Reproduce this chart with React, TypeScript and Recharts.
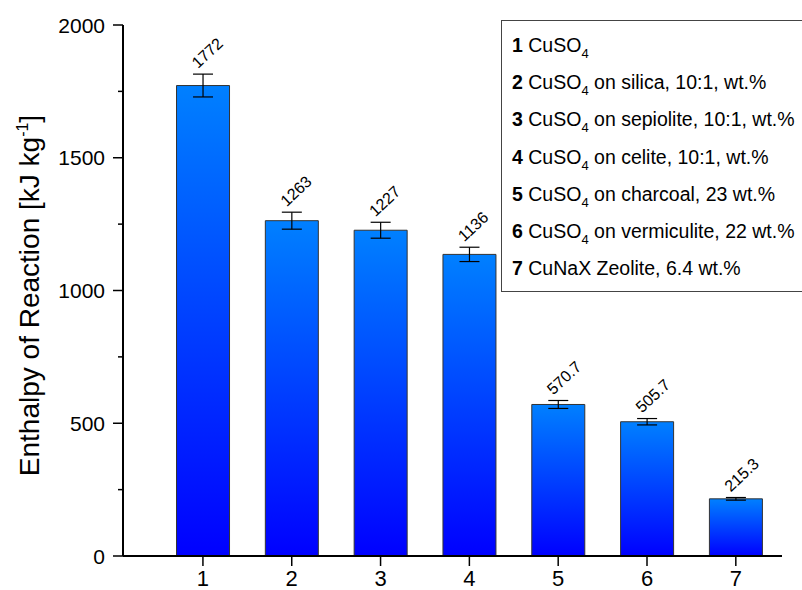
import { Bar, ComposedChart, ErrorBar, LabelList, Line, XAxis, YAxis } from "recharts";

const samples = [1, 2, 3, 4, 5, 6, 7];
const enthalpy = [1772, 1263, 1227, 1136, 570.7, 505.7, 215.3];
const enthalpyError = [43, 32, 30, 27, 15, 12, 5];
const sampleNames = [
  { base: "CuSO", sub: "4", rest: "" },
  { base: "CuSO", sub: "4", rest: " on silica, 10:1, wt.%" },
  { base: "CuSO", sub: "4", rest: " on sepiolite, 10:1, wt.%" },
  { base: "CuSO", sub: "4", rest: " on celite, 10:1, wt.%" },
  { base: "CuSO", sub: "4", rest: " on charcoal, 23 wt.%" },
  { base: "CuSO", sub: "4", rest: " on vermiculite, 22 wt.%" },
  { base: "CuNaX Zeolite, 6.4 wt.%", sub: "", rest: "" },
];
const yMajorTicks = [0, 500, 1000, 1500, 2000];
const yMinorTicks = [250, 750, 1250, 1750];

const FONT = "'Liberation Sans', Arial, Helvetica, sans-serif";

const data = samples.map((id, i) => ({
  id,
  value: enthalpy[i],
  err: enthalpyError[i],
  top: enthalpy[i] + enthalpyError[i],
}));

const Y_TICK_SIZE = 10;
const Y_TICK_MARGIN = 8;

function YTick(props: any) {
  const { x, y, payload } = props;
  const axisX = x + Y_TICK_SIZE + Y_TICK_MARGIN;
  const major = yMajorTicks.includes(payload.value);
  return (
    <g>
      <line
        x1={axisX - (major ? Y_TICK_SIZE : 5)}
        x2={axisX}
        y1={y}
        y2={y}
        stroke="#000"
        strokeWidth={1.5}
      />
      {major && (
        <text
          x={x}
          y={y}
          textAnchor="end"
          dominantBaseline="central"
          fontSize={21}
          fontFamily={FONT}
          fill="#000"
        >
          {payload.value}
        </text>
      )}
    </g>
  );
}

// rotated value text sitting just above the error bar cap
function ValueLabel(props: any) {
  const { x, y, index } = props;
  const tx = x - 5;
  const ty = y - 5;
  return (
    <text
      x={tx}
      y={ty}
      transform={`rotate(-43, ${tx}, ${ty})`}
      fontSize={16}
      fontFamily={FONT}
      fill="#000"
    >
      {String(enthalpy[index])}
    </text>
  );
}

function YTitle(props: any) {
  const { viewBox } = props;
  const cx = viewBox.x + 39;
  const cy = viewBox.y + viewBox.height / 2 + 5;
  return (
    <text
      x={cx}
      y={cy}
      transform={`rotate(-90, ${cx}, ${cy})`}
      textAnchor="middle"
      fontSize={28}
      fontFamily={FONT}
      fill="#000"
    >
      Enthalpy of Reaction [kJ kg
      <tspan dy={-11} fontSize={16}>
        -1
      </tspan>
      <tspan dy={11}>]</tspan>
    </text>
  );
}

function SampleLegend() {
  return (
    <div
      style={{
        position: "absolute",
        left: 501,
        top: 20,
        width: 310,
        height: 272,
        border: "1.5px solid #444",
        background: "#fff",
        fontFamily: FONT,
        fontSize: 19.5,
        color: "#000",
        boxSizing: "border-box",
        paddingLeft: 10,
        paddingTop: 11,
      }}
    >
      {sampleNames.map((name, i) => (
        <div key={i} style={{ height: 37.2, lineHeight: "26px", whiteSpace: "nowrap" }}>
          <b>{samples[i]}</b> {name.base}
          {name.sub && (
            <sub style={{ fontSize: 13, verticalAlign: "-6px" }}>{name.sub}</sub>
          )}
          {name.rest}
        </div>
      ))}
    </div>
  );
}

export default function App() {
  return (
    <div style={{ position: "absolute", left: 0, top: 0, width: 802, height: 590, overflow: "hidden", background: "#fff" }}>
      <ComposedChart
        width={802}
        height={590}
        data={data}
        margin={{ top: 25, right: 20, bottom: 0, left: 0 }}
      >
        <defs>
          <linearGradient id="barFill" x1="0" y1="0" x2="0" y2="1">
            <stop offset="0%" stopColor="#0080ff" />
            <stop offset="100%" stopColor="#0000ff" />
          </linearGradient>
        </defs>
        <XAxis
          dataKey="id"
          type="number"
          domain={[0.1, 7.52]}
          ticks={samples}
          allowDataOverflow
          height={34}
          tickSize={10}
          tickMargin={4}
          axisLine={{ stroke: "#000", strokeWidth: 2 }}
          tickLine={{ stroke: "#000", strokeWidth: 1.5 }}
          tick={{ fill: "#000", fontSize: 22, fontFamily: FONT }}
        />
        <YAxis
          type="number"
          domain={[0, 2000]}
          ticks={[...yMajorTicks, ...yMinorTicks].sort((a, b) => a - b)}
          width={123}
          tickSize={Y_TICK_SIZE}
          tickMargin={Y_TICK_MARGIN}
          tickLine={false}
          axisLine={{ stroke: "#000", strokeWidth: 2 }}
          tick={<YTick />}
          interval={0}
          label={{ content: <YTitle /> }}
        />
        <Bar
          dataKey="value"
          barSize={53}
          fill="url(#barFill)"
          stroke="#333"
          strokeWidth={1}
          isAnimationActive={false}
        >
          <ErrorBar dataKey="err" width={10} stroke="#000" strokeWidth={1.2} direction="y" />
        </Bar>
        <Line
          dataKey="top"
          stroke="none"
          dot={false}
          activeDot={false}
          isAnimationActive={false}
        >
          <LabelList dataKey="top" content={<ValueLabel />} />
        </Line>
      </ComposedChart>
      <SampleLegend />
    </div>
  );
}
